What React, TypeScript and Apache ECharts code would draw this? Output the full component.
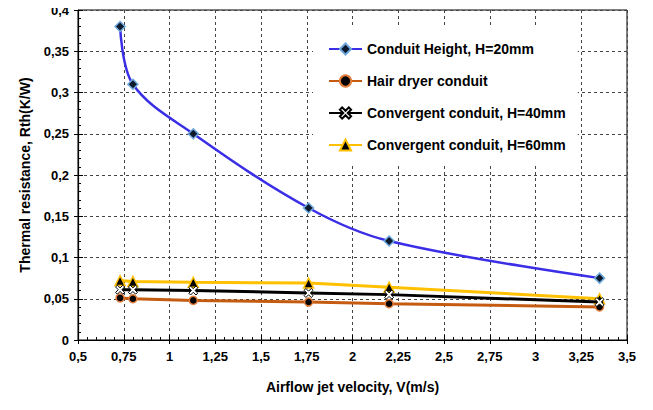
import React, { useEffect, useRef } from "react";
import * as echarts from "echarts";

const velocity = [0.73, 0.8, 1.13, 1.76, 2.2, 3.35];
const conduitH20 = [0.38, 0.31, 0.25, 0.16, 0.12, 0.075];
const hairDryer = [0.051, 0.05, 0.048, 0.046, 0.044, 0.04];
const convergentH40 = [0.061, 0.061, 0.06, 0.057, 0.055, 0.046];
const convergentH60 = [0.072, 0.071, 0.07, 0.069, 0.064, 0.05];
const seriesNames = [
  "Conduit Height, H=20mm",
  "Hair dryer conduit",
  "Convergent conduit, H=40mm",
  "Convergent conduit, H=60mm",
];

const FONT = "'Liberation Sans', Arial, sans-serif";
const comma = (v: number) => String(+v.toFixed(3)).replace(".", ",");
const pairs = (ys: number[]) => velocity.map((x, i) => [x, ys[i]]);

const X_PATH =
  "path://M0,2L2,0L5,3L8,0L10,2L7,5L10,8L8,10L5,7L2,10L0,8L3,5Z";

export default function App() {
  const ref = useRef<HTMLDivElement>(null);
  useEffect(() => {
    if (!ref.current) return;
    const chart = echarts.init(ref.current, undefined, { renderer: "svg" });
    const axisLabel = {
      color: "#000",
      fontFamily: FONT,
      fontWeight: "bold" as const,
      fontSize: 13,
      formatter: (v: number) => comma(v),
    };
    const splitLine = {
      show: true,
      lineStyle: { color: "#444", type: [3, 3] as any, width: 1 },
    };
    chart.setOption({
      animation: false,
      backgroundColor: "#fff",
      grid: {
        left: 78,
        right: 26,
        top: 10,
        bottom: 70,
        show: true,
        borderColor: "#000",
        borderWidth: 1,
        backgroundColor: "transparent",
      },
      legend: {
        orient: "vertical",
        left: 313,
        top: 27,
        backgroundColor: "#fff",
        padding: [15, 12, 12, 15],
        itemGap: 18,
        itemWidth: 33,
        itemHeight: 14,
        data: seriesNames,
        textStyle: {
          color: "#000",
          fontFamily: FONT,
          fontWeight: "bold",
          fontSize: 14,
        },
      },
      xAxis: [
        {
          type: "value",
          min: 0.5,
          max: 3.5,
          interval: 0.25,
          name: "Airflow jet velocity, V(m/s)",
          nameLocation: "middle",
          nameGap: 40,
          nameTextStyle: {
            color: "#000",
            fontFamily: FONT,
            fontWeight: "bold",
            fontSize: 14,
          },
          axisLine: { show: true, lineStyle: { color: "#000", width: 1.2 } },
          axisTick: { show: true, inside: true, length: 5, lineStyle: { color: "#000" } },
          minorTick: { show: true, splitNumber: 5, length: 3, lineStyle: { color: "#000" } },
          axisLabel: { ...axisLabel, margin: 10 },
          splitLine,
        },
        {
          type: "value",
          min: 0.5,
          max: 3.5,
          interval: 0.25,
          position: "bottom",
          axisLine: { show: false },
          axisTick: { show: true, inside: false, length: 4, lineStyle: { color: "#000" } },
          axisLabel: { show: false },
          splitLine: { show: false },
        },
      ],
      yAxis: [
        {
          type: "value",
          min: 0,
          max: 0.4,
          interval: 0.05,
          name: "Thermal resistance, Rth(K/W)",
          nameLocation: "middle",
          nameGap: 46,
          nameTextStyle: {
            color: "#000",
            fontFamily: FONT,
            fontWeight: "bold",
            fontSize: 14,
          },
          axisLine: { show: true, lineStyle: { color: "#000", width: 1.2 } },
          axisTick: { show: true, inside: true, length: 5, lineStyle: { color: "#000" } },
          minorTick: { show: true, splitNumber: 5, length: 3, lineStyle: { color: "#000" } },
          axisLabel: { ...axisLabel, margin: 9 },
          splitLine,
        },
        {
          type: "value",
          min: 0,
          max: 0.4,
          interval: 0.05,
          position: "left",
          axisLine: { show: false },
          axisTick: { show: true, inside: false, length: 4, lineStyle: { color: "#000" } },
          axisLabel: { show: false },
          splitLine: { show: false },
        },
      ],
      series: [
        {
          name: seriesNames[0],
          type: "line",
          data: pairs(conduitH20),
          smooth: 0.35,
          symbol: "diamond",
          symbolSize: 10,
          lineStyle: { color: "#3a2ee6", width: 2.5 },
          itemStyle: { color: "#0d1a2e", borderColor: "#6fa8dc", borderWidth: 1.5 },
          z: 5,
        },
        {
          name: seriesNames[1],
          type: "line",
          data: pairs(hairDryer),
          symbol: "circle",
          symbolSize: 8,
          lineStyle: { color: "#c55a11", width: 3 },
          itemStyle: { color: "#000", borderColor: "#e07b39", borderWidth: 1.5 },
          z: 3,
        },
        {
          name: seriesNames[2],
          type: "line",
          data: pairs(convergentH40),
          symbol: X_PATH,
          symbolSize: 9,
          lineStyle: { color: "#000", width: 3 },
          itemStyle: { color: "#fff", borderColor: "#000", borderWidth: 1 },
          z: 4,
        },
        {
          name: seriesNames[3],
          type: "line",
          data: pairs(convergentH60),
          symbol: "triangle",
          symbolSize: 10,
          lineStyle: { color: "#ffc000", width: 3 },
          itemStyle: { color: "#000", borderColor: "#ffc000", borderWidth: 1.5 },
          z: 3,
        },
      ],
    });
    return () => chart.dispose();
  }, []);
  return <div ref={ref} style={{ width: 653, height: 410, margin: -8 }} />;
}
